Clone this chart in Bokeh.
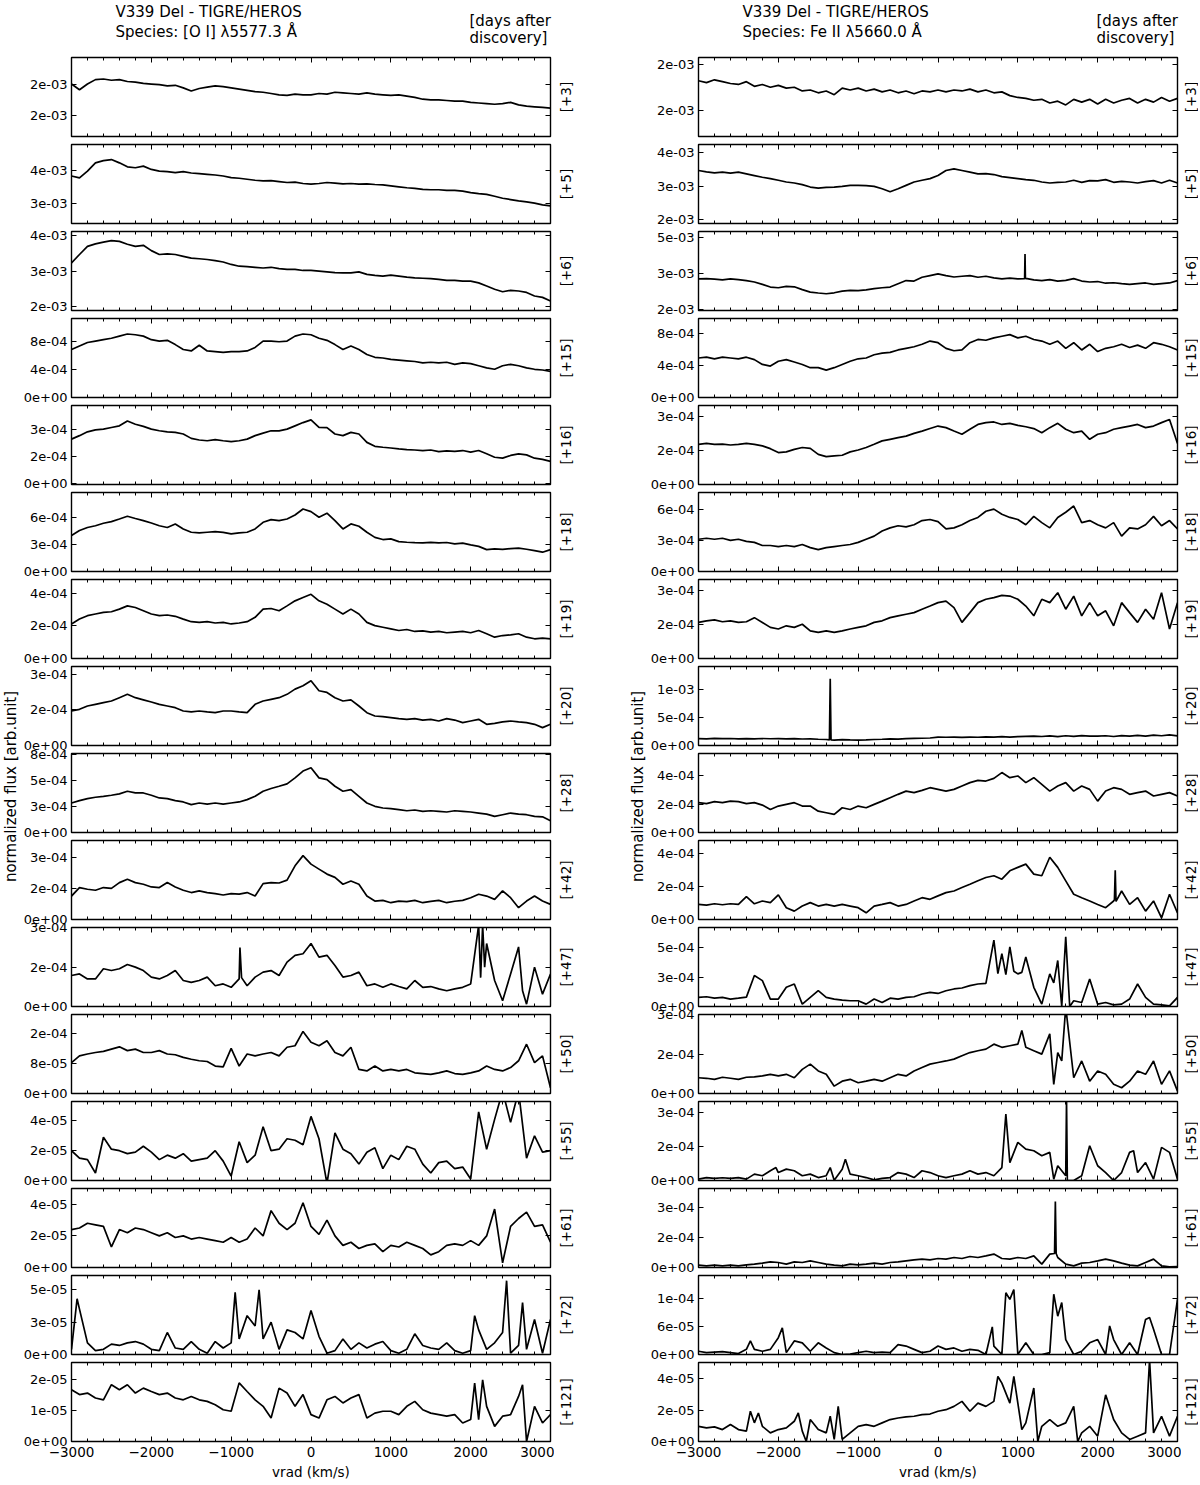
import math
from bokeh.plotting import figure
from bokeh.models import Range1d, FixedTicker, LinearAxis, Label
from bokeh.layouts import column, row
from bokeh.embed import file_html
from bokeh.resources import INLINE

FONT = "DejaVu Sans"

# ---------------- data ----------------
vrad = [-3000, -2900, -2800, -2700, -2600, -2500, -2400, -2300, -2200, -2100,
        -2000, -1900, -1800, -1700, -1600, -1500, -1400, -1300, -1200, -1100,
        -1000, -900, -800, -700, -600, -500, -400, -300, -200, -100,
        0, 100, 200, 300, 400, 500, 600, 700, 800, 900,
        1000, 1100, 1200, 1300, 1400, 1500, 1600, 1700, 1800, 1900,
        2000, 2100, 2200, 2300, 2400, 2500, 2600, 2700, 2800, 2900,
        3000]

x_major = [-3000, -2000, -1000, 0, 1000, 2000, 3000]
x_minor = [-2800, -2600, -2400, -2200, -1800, -1600, -1400, -1200, -800, -600, -400, -200,
           200, 400, 600, 800, 1200, 1400, 1600, 1800, 2200, 2400, 2600, 2800]
x_ticklabels = ["\u22123000", "\u22122000", "\u22121000", "0", "1000", "2000", "3000"]

days = ["+3", "+5", "+6", "+15", "+16", "+18", "+19", "+20",
        "+28", "+42", "+47", "+50", "+55", "+61", "+72", "+121"]

# ---- [O I] 5577.3 (left column); values in units listed in oi_unit ----
oi_d3 = [200, 191, 200, 207, 208, 206, 207, 204, 203, 201,
         200, 199, 197, 198, 194, 189, 193, 195, 197, 196,
         194, 192, 190, 188, 187, 185, 183, 182, 184, 183,
         183, 185, 184, 187, 186, 185, 184, 186, 184, 183,
         182, 183, 181, 179, 176, 175, 175, 174, 173, 173,
         171, 170, 169, 168, 169, 171, 167, 165, 164, 163,
         162]
oi_d5 = [383, 377, 398, 423, 430, 433, 423, 411, 408, 413,
         403, 398, 396, 393, 396, 392, 390, 388, 386, 383,
         378, 376, 373, 370, 368, 369, 366, 363, 364, 360,
         358, 360, 363, 361, 359, 360, 358, 359, 357, 356,
         353, 350, 347, 345, 342, 341, 341, 339, 339, 337,
         332, 329, 327, 321, 315, 311, 307, 304, 300, 295,
         292]
oi_d6 = [323, 347, 370, 377, 382, 386, 384, 376, 370, 373,
         358, 347, 349, 347, 342, 337, 335, 333, 330, 326,
         319, 314, 313, 311, 309, 311, 307, 305, 305, 302,
         302, 300, 298, 296, 295, 295, 298, 291, 288, 286,
         289, 286, 283, 281, 280, 279, 277, 274, 274, 272,
         272, 267, 258, 249, 242, 246, 244, 240, 230, 226,
         216]
oi_d15 = [68, 73, 78, 80, 82, 84, 87, 90, 89, 87,
          82, 80, 81, 75, 68, 66, 74, 66, 65, 64,
          65, 65, 66, 71, 80, 80, 79, 80, 87, 90,
          89, 84, 81, 75, 68, 73, 68, 61, 57, 56,
          54, 53, 52, 51, 49, 50, 49, 50, 47, 49,
          48, 45, 42, 40, 45, 47, 45, 42, 40, 39,
          37]
oi_d16 = [245, 264, 285, 296, 300, 309, 318, 345, 327, 315,
          300, 291, 285, 282, 273, 249, 240, 236, 242, 236,
          231, 236, 245, 264, 278, 291, 290, 300, 318, 336,
          351, 309, 308, 273, 264, 282, 273, 227, 205, 200,
          196, 191, 187, 185, 182, 185, 176, 180, 177, 182,
          173, 182, 164, 145, 140, 155, 164, 158, 140, 133,
          122]
oi_d18 = [400, 456, 490, 510, 537, 556, 585, 615, 590, 567,
          540, 510, 490, 530, 474, 437, 430, 437, 444, 436,
          419, 430, 437, 474, 548, 578, 567, 585, 630, 696,
          667, 604, 650, 567, 474, 530, 504, 437, 380, 356,
          363, 333, 326, 322, 319, 325, 318, 323, 307, 316,
          296, 280, 244, 252, 246, 255, 260, 248, 233, 215,
          244]
oi_d19 = [212, 242, 263, 273, 283, 287, 303, 323, 313, 293,
          273, 263, 267, 259, 242, 226, 222, 226, 218, 222,
          212, 218, 226, 253, 303, 307, 293, 323, 354, 374,
          394, 354, 333, 303, 273, 303, 273, 222, 202, 192,
          182, 172, 178, 166, 170, 162, 166, 158, 162, 166,
          158, 172, 152, 131, 141, 145, 152, 131, 121, 125,
          121]
oi_d20 = [145, 152, 166, 173, 180, 187, 201, 215, 201, 192,
          183, 173, 166, 159, 145, 141, 145, 141, 138, 145,
          145, 141, 138, 173, 187, 194, 201, 215, 237, 251,
          272, 230, 223, 201, 187, 192, 166, 138, 124, 121,
          117, 113, 110, 113, 107, 110, 103, 113, 107, 96,
          103, 110, 89, 93, 99, 103, 99, 96, 89, 75,
          89]
oi_d28 = [282, 304, 324, 337, 346, 356, 369, 394, 378, 378,
          356, 330, 324, 304, 292, 266, 282, 272, 282, 272,
          282, 292, 314, 346, 394, 420, 442, 465, 522, 587,
          619, 522, 506, 442, 394, 410, 346, 282, 250, 234,
          228, 218, 208, 215, 202, 208, 202, 196, 208, 202,
          196, 186, 176, 154, 170, 186, 176, 170, 154, 150,
          112]
oi_d42 = [113, 154, 146, 141, 154, 150, 178, 194, 178, 170,
          157, 154, 178, 157, 141, 130, 138, 130, 125, 118,
          125, 122, 130, 113, 173, 178, 176, 190, 259, 308,
          267, 243, 219, 203, 170, 186, 170, 113, 89, 92,
          81, 89, 86, 92, 81, 87, 92, 81, 88, 92,
          105, 122, 113, 97, 138, 105, 57, 89, 113, 89,
          73]
oi_d47 = [118, 124, 105, 105, 144, 137, 144, 160, 150, 137,
          112, 105, 118, 137, 99, 92, 99, 112, 79, 86,
          73, 105, 79, 112, 131, 137, 118, 169, 195, 201,
          240, 188, 195, 156, 112, 118, 131, 79, 86, 73,
          86, 76, 67, 99, 73, 76, 67, 60, 67, 73,
          86, 310, 240, 99, 22, 124, 227, 9, 150, 47,
          124]
oi_d50 = [82, 100, 105, 109, 112, 118, 124, 114, 118, 109,
          109, 114, 105, 103, 96, 91, 87, 85, 73, 71,
          120, 73, 105, 100, 105, 109, 100, 123, 127, 165,
          136, 127, 140, 109, 100, 123, 64, 60, 73, 60,
          64, 60, 64, 55, 53, 51, 55, 60, 53, 51,
          55, 60, 73, 64, 60, 69, 87, 131, 82, 100,
          15]
oi_d55 = [20, 15, 14, 5, 29, 21, 20, 18, 19, 23,
          19, 14, 17, 15, 18, 13, 14, 15, 20, 13,
          3, 26, 12, 17, 36, 20, 21, 28, 27, 24,
          43, 28, -2, 32, 21, 18, 11, 19, 22, 8,
          17, 14, 23, 21, 11, 5, 12, 13, 8, 9,
          1, 46, 21, 41, 60, 39, 60, 15, 30, 19,
          20]
oi_d61 = [24, 25, 28, 27, 26, 13, 24, 22, 25, 24,
          22, 20, 22, 19, 20, 18, 19, 18, 17, 16,
          19, 16, 18, 25, 20, 36, 28, 24, 28, 41,
          26, 21, 30, 20, 14, 16, 12, 14, 15, 10,
          14, 13, 16, 14, 12, 8, 10, 14, 15, 14,
          17, 14, 20, 37, 3, 26, 31, 35, 26, 27,
          16]
oi_d72 = [4, 35, 9, 3, 4, 8, 7, 9, 10, 8,
          4, 3, 17, 5, 4, 10, 4, 1, 10, 5,
          9, 12, 30, 22, 12, 25, 4, 19, 17, 12,
          34, 14, 1, 3, 12, 4, 9, 5, 8, 10,
          3, 1, 4, 16, 7, 5, 4, 9, 3, 1,
          3, 19, 4, 9, 17, 1, 7, 4, 27, 1,
          27]
oi_d121 = [168, 152, 157, 141, 135, 184, 168, 184, 157, 173,
           162, 152, 157, 141, 135, 146, 135, 130, 119, 103,
           98, 190, 162, 135, 114, 76, 173, 157, 114, 152,
           87, 76, 135, 146, 125, 141, 152, 76, 92, 98,
           98, 87, 114, 130, 103, 92, 87, 82, 87, 60,
           71, 71, 114, 49, 82, 87, 146, 0, 114, 60,
           87]

oi_series = [oi_d3, oi_d5, oi_d6, oi_d15, oi_d16, oi_d18, oi_d19, oi_d20,
             oi_d28, oi_d42, oi_d47, oi_d50, oi_d55, oi_d61, oi_d72, oi_d121]
oi_spikes = [[], [], [], [], [], [], [], [], [], [],
             [(-890, 225), (-870, 110), (2125, 110), (2150, 310), (2175, 150), (2650, 60)],
             [], [], [],
             [(-2930, 43), (-950, 48), (-650, 50), (2050, 30), (2450, 57), (2650, 40)],
             [(2050, 189), (2150, 200), (2650, 184)]]
oi_unit = [1e-5, 1e-5, 1e-5, 1e-5, 1e-6, 1e-6, 1e-6, 1e-6,
           1e-6, 1e-6, 1e-6, 1e-6, 1e-6, 1e-6, 1e-6, 1e-7]
oi_ylim = [(117, 242), (238, 479), (189, 412), (0, 112), (-5, 430), (0, 880), (0, 485), (0, 332),
           (0, 755), (0, 381), (0, 301), (0, 210), (0, 53), (0, 50), (0, 61), (0, 256)]
oi_ticks = [[150, 200], [300, 400], [200, 300, 400], [0, 40, 80], [0, 150, 300], [0, 300, 600],
            [0, 200, 400], [0, 150, 300], [0, 250, 500, 750], [0, 150, 300], [0, 150, 300],
            [0, 80, 160], [0, 20, 40], [0, 20, 40], [0, 25, 50], [0, 100, 200]]
oi_ticklabels = [["2e-03", "2e-03"], ["3e-03", "4e-03"], ["2e-03", "3e-03", "4e-03"],
                 ["0e+00", "4e-04", "8e-04"], ["0e+00", "2e-04", "3e-04"], ["0e+00", "3e-04", "6e-04"],
                 ["0e+00", "2e-04", "4e-04"], ["0e+00", "2e-04", "3e-04"],
                 ["0e+00", "3e-04", "5e-04", "8e-04"], ["0e+00", "2e-04", "3e-04"],
                 ["0e+00", "2e-04", "3e-04"], ["0e+00", "8e-05", "2e-04"], ["0e+00", "2e-05", "4e-05"],
                 ["0e+00", "2e-05", "4e-05"], ["0e+00", "3e-05", "5e-05"], ["0e+00", "1e-05", "2e-05"]]

# ---- Fe II 5660.0 (right column) ----
fe_d3 = [182, 180, 183, 181, 179, 178, 181, 176, 178, 175,
         177, 174, 175, 171, 172, 169, 171, 167, 174, 172,
         174, 171, 173, 170, 172, 169, 171, 168, 171, 170,
         172, 170, 172, 171, 173, 170, 172, 169, 170, 166,
         164, 163, 161, 162, 158, 160, 156, 162, 159, 162,
         157, 162, 158, 161, 163, 158, 162, 159, 164, 160,
         163]
fe_d5 = [346, 342, 339, 341, 338, 341, 336, 331, 326, 322,
         317, 312, 309, 304, 297, 294, 296, 297, 299, 302,
         302, 301, 299, 292, 283, 292, 302, 312, 317, 322,
         331, 346, 351, 346, 341, 336, 337, 334, 328, 325,
         322, 319, 317, 312, 309, 311, 312, 317, 311, 316,
         315, 319, 311, 314, 312, 309, 313, 316, 309, 317,
         309]
fe_d6 = [279, 280, 278, 275, 279, 276, 272, 266, 256, 245,
         242, 248, 246, 234, 224, 220, 217, 221, 228, 231,
         230, 233, 238, 242, 245, 259, 272, 270, 286, 293,
         300, 293, 287, 290, 293, 286, 290, 283, 279, 282,
         279, 281, 275, 272, 276, 270, 273, 280, 270, 266,
         268, 261, 263, 259, 256, 259, 262, 256, 259, 262,
         272]
fe_d15 = [49, 50, 48, 50, 49, 48, 50, 47, 41, 39,
          45, 47, 44, 41, 37, 37, 34, 37, 41, 45,
          48, 49, 53, 55, 56, 59, 61, 63, 66, 70,
          68, 61, 58, 59, 68, 72, 71, 74, 76, 78,
          74, 76, 72, 70, 66, 70, 61, 68, 59, 66,
          57, 61, 63, 66, 62, 65, 61, 68, 66, 63,
          59]
fe_d16 = [176, 180, 176, 177, 173, 176, 180, 176, 169, 157,
          140, 143, 154, 162, 158, 132, 122, 125, 128, 143,
          151, 162, 176, 191, 198, 205, 212, 224, 234, 245,
          256, 249, 234, 220, 242, 263, 271, 274, 263, 268,
          259, 253, 245, 227, 249, 268, 242, 227, 234, 198,
          220, 227, 242, 249, 256, 263, 249, 256, 271, 285,
          180]
fe_d18 = [31, 32, 31, 32, 30, 31, 29, 28, 25, 25,
          24, 25, 24, 26, 23, 21, 23, 24, 25, 26,
          28, 31, 34, 39, 42, 44, 43, 45, 49, 50,
          48, 41, 42, 45, 49, 52, 58, 60, 55, 52,
          50, 45, 53, 47, 42, 52, 57, 63, 47, 49,
          45, 42, 47, 34, 42, 41, 45, 53, 44, 49,
          41]
fe_d19 = [159, 166, 170, 162, 166, 159, 162, 180, 159, 137,
          130, 144, 137, 151, 122, 115, 122, 115, 122, 130,
          137, 144, 159, 166, 180, 188, 195, 202, 217, 231,
          246, 253, 224, 159, 202, 246, 261, 268, 278, 275,
          261, 231, 188, 261, 246, 290, 217, 275, 188, 246,
          188, 210, 144, 246, 202, 159, 217, 173, 290, 130,
          246]
fe_d20 = [125, 120, 128, 122, 126, 118, 124, 120, 126, 121,
          123, 119, 125, 117, 120, 112, 108, 95, 104, 100,
          98, 102, 108, 112, 118, 115, 122, 128, 130, 135,
          150, 148, 152, 145, 150, 148, 155, 150, 158, 152,
          160, 165, 170, 162, 172, 160, 175, 165, 178, 170,
          168, 175, 162, 178, 170, 182, 168, 185, 175, 190,
          172]
fe_d28 = [211, 204, 218, 211, 222, 218, 204, 211, 194, 163,
          187, 199, 211, 187, 187, 151, 140, 128, 175, 163,
          187, 175, 199, 222, 246, 270, 293, 282, 298, 317,
          305, 293, 305, 329, 353, 369, 364, 383, 424, 388,
          400, 353, 388, 341, 293, 329, 353, 293, 329, 305,
          222, 293, 317, 305, 270, 282, 293, 258, 270, 282,
          258]
fe_d42 = [92, 88, 96, 90, 96, 92, 140, 96, 113, 103,
          150, 72, 51, 82, 103, 82, 92, 82, 92, 82,
          72, 41, 82, 92, 103, 82, 92, 113, 133, 123,
          144, 164, 174, 195, 215, 236, 256, 267, 246, 297,
          318, 338, 277, 267, 380, 318, 236, 154, 133, 113,
          92, 72, 113, 174, 92, 133, 51, 113, 10, 154,
          40]
fe_d47 = [77, 83, 71, 77, 63, 71, 80, 263, 220, 63,
          63, 163, 191, 20, 77, 134, 77, 63, 54, 49,
          49, 20, 63, 34, 71, 63, 77, 83, 106, 120,
          111, 134, 149, 157, 177, 191, 197, 563, 449, 506,
          277, 420, 163, 20, 277, 391, 591, 49, 34, 234,
          20, 34, 14, 20, 63, 191, 77, 20, 14, 6,
          77]
fe_d50 = [60, 58, 54, 62, 58, 54, 62, 63, 67, 73,
          67, 73, 60, 92, 112, 86, 73, 28, 47, 54,
          41, 47, 54, 47, 60, 73, 67, 86, 99, 112,
          118, 124, 131, 144, 156, 163, 169, 188, 176, 182,
          188, 176, 163, 150, 227, 156, 330, 60, 124, 47,
          86, 73, 35, 22, 47, 86, 73, 124, 35, 86,
          9]
fe_d55 = [6, 13, 9, 12, 9, 13, 6, 28, 21, 43,
          35, 50, 43, 21, 28, 13, 21, 1, 50, 28,
          21, 13, 3, 9, 13, 35, 28, 13, 43, 35,
          21, 13, 21, 28, 43, 28, 35, 21, 57, 79,
          168, 138, 131, 109, 124, 65, 21, 0, 21, 153,
          65, 35, 0, 35, 124, 35, 79, 6, 146, 124,
          6]
fe_d61 = [12, 8, 12, 8, 12, 8, 13, 17, 22, 28,
          25, 17, 28, 25, 33, 25, 17, 12, 8, 17,
          13, 17, 22, 17, 25, 28, 33, 38, 42, 38,
          45, 42, 50, 45, 55, 50, 58, 67, 45, 42,
          50, 45, 58, 17, 67, 50, 17, 8, 22, 25,
          33, 42, 33, 22, 12, 8, 25, 42, 8, 3,
          5]
fe_d72 = [7, 4, 5, 6, 4, 2, 11, 11, 7, 11,
          36, 4, 29, 25, 7, 25, 14, 4, 0, 1,
          4, 7, 4, 5, 4, 21, 18, 11, 4, 7,
          18, 11, 14, 7, 11, 9, 0, 18, 0, 118,
          0, 25, 0, 0, 4, 82, 32, 0, 7, 25,
          32, 0, 32, 0, 25, 0, 75, 54, 0, 0,
          118]
fe_d121 = [97, 87, 93, 76, 108, 76, 66, 119, 97, 55,
           76, 87, 129, 66, 140, 76, 55, 13, 13, 55,
           97, 108, 97, 119, 140, 150, 157, 161, 171, 175,
           193, 203, 224, 256, 193, 245, 224, 256, 372, 245,
           245, 119, 341, 97, 140, 97, 119, 224, 55, 97,
           34, 298, 140, 55, 13, 34, 55, 55, 161, 34,
           161]

fe_series = [fe_d3, fe_d5, fe_d6, fe_d15, fe_d16, fe_d18, fe_d19, fe_d20,
             fe_d28, fe_d42, fe_d47, fe_d50, fe_d55, fe_d61, fe_d72, fe_d121]
fe_spikes = [[], [],
             [(1085, 280), (1090, 383), (1095, 280)],
             [], [], [], [],
             [(-1360, 100), (-1350, 1200), (-1340, 100)],
             [],
             [(2210, 120), (2220, 300), (2230, 110)],
             [(750, 280), (850, 270), (950, 300), (1050, 290), (1450, 200), (1550, 0), (1650, 0)],
             [(1050, 240), (1450, 35), (1550, 124)],
             [(-2030, 57), (-1350, 57), (-1160, 94), (850, 293), (1450, 6), (1610, 360), (1620, 0), (2450, 131)],
             [(1460, 70), (1470, 330), (1480, 70)],
             [(-2350, 29), (-1950, 57), (680, 59), (850, 132), (950, 139), (1450, 129), (1550, 111),
              (2150, 61), (2650, 79)],
             [(-2350, 193), (-2250, 182), (-1750, 182), (-1650, 0), (-1350, 161), (-1250, 224),
              (750, 415), (950, 415), (1050, 76), (1250, 0), (1750, 0), (2650, 520)]]
fe_unit = [1e-5, 1e-5, 1e-5, 1e-5, 1e-6, 1e-5, 1e-6, 1e-6,
           1e-6, 1e-6, 1e-6, 1e-6, 1e-6, 1e-6, 1e-6, 1e-7]
fe_ylim = [(122, 207), (189, 423), (147, 477), (0, 98), (0, 346), (0, 76), (0, 348), (0, 1420),
           (0, 559), (0, 482), (0, 671), (0, 301), (0, 348), (0, 395), (0, 169), (0, 504)]
fe_ticks = [[150, 200], [200, 300, 400], [150, 300, 450], [0, 40, 80], [0, 150, 300], [0, 30, 60],
            [0, 150, 300], [0, 500, 1000], [0, 200, 400], [0, 200, 400], [0, 250, 500],
            [0, 150, 300], [0, 150, 300], [0, 150, 300], [0, 60, 120], [0, 200, 400]]
fe_ticklabels = [["2e-03", "2e-03"], ["2e-03", "3e-03", "4e-03"], ["2e-03", "3e-03", "5e-03"],
                 ["0e+00", "4e-04", "8e-04"], ["0e+00", "2e-04", "3e-04"], ["0e+00", "3e-04", "6e-04"],
                 ["0e+00", "2e-04", "3e-04"], ["0e+00", "5e-04", "1e-03"], ["0e+00", "2e-04", "4e-04"],
                 ["0e+00", "2e-04", "4e-04"], ["0e+00", "3e-04", "5e-04"], ["0e+00", "2e-04", "3e-04"],
                 ["0e+00", "2e-04", "3e-04"], ["0e+00", "2e-04", "3e-04"], ["0e+00", "6e-05", "1e-04"],
                 ["0e+00", "2e-05", "4e-05"]]

title_oi = ["V339 Del - TIGRE/HEROS", "Species: [O I] \u03bb5577.3 \u00c5"]
title_fe = ["V339 Del - TIGRE/HEROS", "Species: Fe II \u03bb5660.0 \u00c5"]
days_head = ["[days after", "discovery]"]
ylabel_text = "normalized flux [arb.unit]"

for s in oi_series + fe_series:
    assert len(s) == len(vrad), len(s)

# ---------------- layout constants (page pixels, origin at top-left) ----------------
FRAME_W, FRAME_H = 479, 79
PITCH = 87            # frame-to-frame distance
BORDER = 11           # top/bottom border of each panel (overlaps neighbours)
OVERLAP = FRAME_H + 2 * BORDER - PITCH   # 14
LAST_BOTTOM = 42
HEADER_H = 53
FIRST_FRAME_TOP = 57
COL_BOTTOM = FIRST_FRAME_TOP + 15 * PITCH + FRAME_H + LAST_BOTTOM   # 1483
COL_H = COL_BOTTOM - HEADER_H
TICK_FONT = "13px"


def hide_labels(ax, ticks):
    ax.major_label_overrides = {t: "" for t in ticks}
    ax.major_label_text_font_size = "0px"
    ax.major_label_standoff = 0


def style_ticks(ax):
    ax.axis_line_color = None
    ax.major_tick_in = 5
    ax.major_tick_out = 0
    ax.minor_tick_in = 3
    ax.minor_tick_out = 0
    ax.major_tick_line_color = "black"
    ax.minor_tick_line_color = "black"
    ax.major_tick_line_width = 1
    ax.minor_tick_line_width = 1


def make_panel(vals, spikes, ylim, ticks, labels, bl, br, idx):
    last = (idx == 15)
    pts = sorted(list(zip(vrad, vals)) + [tuple(s) for s in spikes])
    xs = [a for a, b in pts]
    ys = [b for a, b in pts]
    top_margin = -(HEADER_H - (FIRST_FRAME_TOP - BORDER)) if idx == 0 else -OVERLAP
    p = figure(frame_width=FRAME_W, frame_height=FRAME_H,
               x_range=Range1d(-3000, 3000), y_range=Range1d(ylim[0], ylim[1]),
               x_axis_type=None, y_axis_type=None,
               output_backend="svg", toolbar_location=None,
               min_border_left=bl, min_border_right=br,
               min_border_top=BORDER, min_border_bottom=(LAST_BOTTOM if last else BORDER),
               margin=(top_margin, 0, 0, 0))
    p.outline_line_color = "black"
    p.outline_line_width = 1.4
    p.outline_line_alpha = 1.0
    p.background_fill_color = None
    p.border_fill_color = None
    p.line(xs, ys, line_color="black", line_width=1.7)

    xt = FixedTicker(ticks=x_major, minor_ticks=x_minor)
    yt = FixedTicker(ticks=ticks, minor_ticks=[])

    bottom = LinearAxis(ticker=xt)
    style_ticks(bottom)
    if last:
        bottom.major_label_overrides = dict(zip(x_major, x_ticklabels))
        bottom.major_label_text_font = FONT
        bottom.major_label_text_font_size = "13.5px"
        bottom.major_label_text_color = "black"
        bottom.major_label_standoff = 5
        bottom.axis_label = "vrad (km/s)"
        bottom.axis_label_text_font = FONT
        bottom.axis_label_text_font_size = "13.5px"
        bottom.axis_label_text_font_style = "normal"
        bottom.axis_label_text_color = "black"
        bottom.axis_label_standoff = 4
    else:
        hide_labels(bottom, x_major)
    p.add_layout(bottom, "below")

    top = LinearAxis(ticker=xt)
    style_ticks(top)
    hide_labels(top, x_major)
    p.add_layout(top, "above")

    left = LinearAxis(ticker=yt)
    style_ticks(left)
    left.major_label_overrides = dict(zip(ticks, labels))
    left.major_label_text_font = FONT
    left.major_label_text_font_size = TICK_FONT
    left.major_label_text_color = "black"
    left.major_label_standoff = 4
    p.add_layout(left, "left")

    right = LinearAxis(ticker=yt)
    style_ticks(right)
    hide_labels(right, ticks)
    p.add_layout(right, "right")
    return p


def blank_fig(w, h, x0, x1, y0, y1, margin=(0, 0, 0, 0)):
    f = figure(width=w, height=h, x_range=Range1d(x0, x1), y_range=Range1d(y0, y1),
               x_axis_type=None, y_axis_type=None, output_backend="svg",
               toolbar_location=None, min_border=0, outline_line_color=None, margin=margin)
    f.background_fill_color = None
    f.border_fill_color = None
    return f


def add_text(fig, x, y, text, size, angle=0.0, align="left"):
    fig.add_layout(Label(x=x, y=y, text=text, angle=angle, text_align=align,
                         text_baseline="middle", text_font=FONT,
                         text_font_size=size, text_color="black"))


# ---------------- header: data coords = page x, (HEADER_H - page y) ----------------
hdr = blank_fig(1200, HEADER_H, 0, 1200, 0, HEADER_H)
add_text(hdr, 115, HEADER_H - 11, title_oi[0], "15px")
add_text(hdr, 115, HEADER_H - 31, title_oi[1], "15px")
add_text(hdr, 469, HEADER_H - 20, days_head[0], "15px")
add_text(hdr, 469, HEADER_H - 37, days_head[1], "15px")
add_text(hdr, 742, HEADER_H - 11, title_fe[0], "15px")
add_text(hdr, 742, HEADER_H - 31, title_fe[1], "15px")
add_text(hdr, 1096, HEADER_H - 20, days_head[0], "15px")
add_text(hdr, 1096, HEADER_H - 37, days_head[1], "15px")

# ---------------- text strips beside the columns: data coords = page x, (COL_BOTTOM - page y) ----
LEFT_STRIP_W = 20
LEFT_BL = 71 - LEFT_STRIP_W        # 51
PANEL_BR = 4
MID_X0 = 71 + FRAME_W + PANEL_BR   # 554
RIGHT_BL = 51
MID_X1 = 698 - RIGHT_BL            # 647
RIGHT_X0 = 698 + FRAME_W + PANEL_BR  # 1181
PAGE_W = 1198

ylab_l = blank_fig(LEFT_STRIP_W, COL_H, 0, LEFT_STRIP_W, 0, COL_H)
strip_mid = blank_fig(MID_X1 - MID_X0, COL_H, MID_X0, MID_X1, 0, COL_H)
strip_r = blank_fig(PAGE_W - RIGHT_X0, COL_H, RIGHT_X0, PAGE_W, 0, COL_H)

YLABEL_Y = 786
add_text(ylab_l, 10, COL_BOTTOM - YLABEL_Y, ylabel_text, "15px", math.pi / 2, "center")
add_text(strip_mid, 637, COL_BOTTOM - YLABEL_Y, ylabel_text, "15px", math.pi / 2, "center")
for i, d in enumerate(days):
    yc = FIRST_FRAME_TOP + i * PITCH + FRAME_H / 2.0
    add_text(strip_mid, 565, COL_BOTTOM - yc, "[" + d + "]", "13.5px", math.pi / 2, "center")
    add_text(strip_r, 1190, COL_BOTTOM - yc, "[" + d + "]", "13.5px", math.pi / 2, "center")

left_panels = []
right_panels = []
for i in range(16):
    left_panels.append(make_panel(oi_series[i], oi_spikes[i], oi_ylim[i], oi_ticks[i],
                                  oi_ticklabels[i], LEFT_BL, PANEL_BR, i))
    right_panels.append(make_panel(fe_series[i], fe_spikes[i], fe_ylim[i], fe_ticks[i],
                                   fe_ticklabels[i], RIGHT_BL, PANEL_BR, i))

layout = column(hdr, row(ylab_l, column(*left_panels), strip_mid, column(*right_panels), strip_r))

open("out.html", "w").write(file_html(layout, INLINE, "V339 Del - TIGRE/HEROS"))
